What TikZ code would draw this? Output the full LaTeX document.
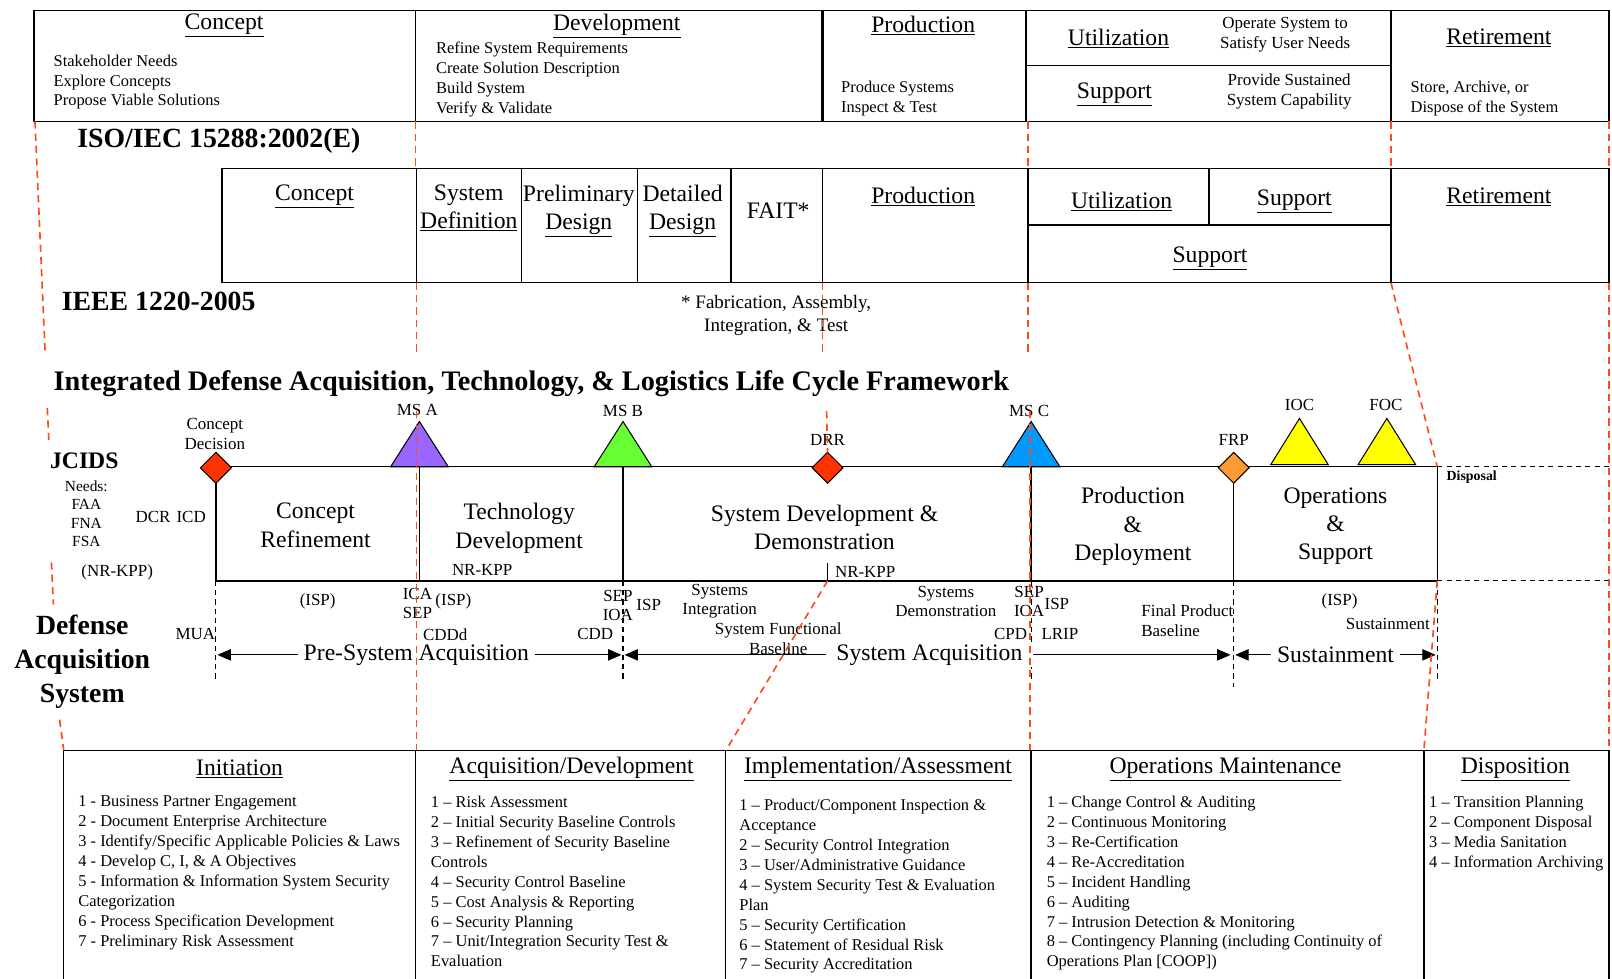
\documentclass[tikz,border=0pt]{standalone}
\usepackage{fontspec}
\setmainfont{Liberation Serif}
\usetikzlibrary{arrows.meta}
\definecolor{redl}{RGB}{255,75,25}
\definecolor{dred}{RGB}{255,51,0}
\definecolor{msa}{RGB}{153,102,255}
\definecolor{msb}{RGB}{102,255,51}
\definecolor{msc}{RGB}{0,153,255}
\definecolor{frp}{RGB}{255,153,51}
\definecolor{yel}{RGB}{255,255,0}
\newcommand{\fsz}[2]{\fontsize{#1}{#2}\selectfont}
\begin{document}
\begin{tikzpicture}[x=1pt,y=-1pt,
  tbl/.style={line width=1.3pt},
  ln/.style={line width=1pt},
  reddash/.style={draw=redl,line width=1.6pt,dash pattern=on 7pt off 5pt},
  bdash/.style={line width=1pt,dash pattern=on 5pt off 4pt},
  hd/.style={inner sep=0pt,font=\fsz{23}{27}},
  itl/.style={inner sep=0pt,font=\fsz{16}{19.4},align=left,anchor=north west},
  sm/.style={inner sep=0pt,font=\fsz{16.5}{19}},
  bandtxt/.style={inner sep=0pt,font=\fsz{23}{27.5},align=center},
  ttl/.style={inner sep=0pt,font=\bfseries\fsz{27}{33},anchor=west},
  arrtxt/.style={fill=white,inner xsep=6pt,inner ysep=2pt,font=\fsz{23}{26}},
  dbl/.style={line width=1pt,{Triangle[length=13pt,width=11pt]}-{Triangle[length=13pt,width=11pt]}},
  mst/.style={draw=black,line width=1pt},
]
\fill[white] (0,0) rectangle (1568,952);
\useasboundingbox (0,0) rectangle (1568,952);

% ---------------- Top table (ISO/IEC 15288) ----------------
\draw[tbl] (33,10) rectangle (1565,118);
\draw[tbl] (404,10) -- (404,118);
\draw[line width=2.4pt] (800,10) -- (800,118);
\draw[tbl] (998,10) -- (998,118);
\draw[tbl] (1353,10) -- (1353,118);
\draw[tbl] (998,64) -- (1353,64);

\node[hd] (iconcept) at (218,25) {\underline{Concept}};
\node[hd] (idev) at (600,25) {\underline{Development}};
\node[hd] (iprod) at (898,25) {\underline{Production}};
\node[hd] (iutil) at (1088,37) {\underline{Utilization}};
\node[hd] (isupp) at (1084,92) {\underline{Support}};
\node[hd] (iret) at (1458,37) {\underline{Retirement}};
\node[sm,align=center] (iutiltx) at (1250,34) {Operate System to\\Satisfy User Needs};
\node[sm,align=center] (isupptx) at (1254,89) {Provide Sustained\\System Capability};
\node[itl] (iconcepttx) at (52,53) {Stakeholder Needs\\Explore Concepts\\Propose Viable Solutions};
\node[itl] (idevtx) at (424,41) {Refine System Requirements\\Create Solution Description\\Build System\\Verify \& Validate};
\node[itl] (iprodtx) at (818,79) {Produce Systems\\Inspect \& Test};
\node[itl] (irettx) at (1372,79) {Store, Archive, or\\Dispose of the System};

\node[ttl] (iso) at (75,137) {ISO/IEC 15288:2002(E)};

% ---------------- Second table (IEEE 1220) ----------------
\draw[tbl] (216,164) rectangle (1565,275);
\foreach \xx in {405,507,620,711,800,1000,1353} \draw[tbl] (\xx,164) -- (\xx,275);
\draw[tbl] (1176,164) -- (1176,219);
\draw[tbl] (1000,219) -- (1353,219);

\node[hd] (econcept) at (306,191) {\underline{Concept}};
\node[hd,align=center,anchor=north] (esysdef) at (456,180) {System\\\underline{Definition}};
\node[hd,align=center,anchor=north] (eprelim) at (563,180) {Preliminary\\\underline{Design}};
\node[hd,align=center,anchor=north] (edetail) at (664,180) {Detailed\\\underline{Design}};
\node[hd] (efait) at (757,205) {FAIT*};
\node[hd] (eprod) at (898,191) {\underline{Production}};
\node[hd] (eutil) at (1091,196) {\underline{Utilization}};
\node[hd] (esupp1) at (1259,196) {\underline{Support}};
\node[hd] (esupp2) at (1177,251) {\underline{Support}};
\node[hd] (eret) at (1458,191) {\underline{Retirement}};

\node[ttl] (ieee) at (60,293) {IEEE 1220-2005};
\node[inner sep=0pt,font=\fsz{18.5}{22},align=center] (fait) at (755,307) {* Fabrication, Assembly,\\Integration, \& Test};

% ---------------- Framework ----------------
\node[inner sep=0pt,font=\bfseries\fsz{27.5}{30},anchor=west] (title) at (52,373) {Integrated Defense Acquisition, Technology, \& Logistics Life Cycle Framework};

% band
\draw[tbl] (210,454) -- (1398,454);
\draw[tbl] (210,565) -- (1398,565);
\draw[bdash] (1398,454) -- (1565,454);
\draw[bdash] (1398,565) -- (1565,565);
\foreach \xx in {210,408,606,1003,1200,1398} \draw[tbl] (\xx,454) -- (\xx,565);
\draw[ln] (805,548) -- (805,565);

% dashed verticals below band
\foreach \xx in {210,606,1003,1398} \draw[bdash] (\xx,565) -- (\xx,662);
\draw[bdash] (1200,565) -- (1200,668);

% arrows
\coordinate (a0) at (210,637);
\coordinate (a1) at (606,637);
\coordinate (a2) at (1200,637);
\coordinate (a3) at (1398,637);
\draw[dbl,shorten <=1.5pt,shorten >=1.5pt] (a0) -- (a1);
\draw[dbl,shorten <=1.5pt,shorten >=3pt] (a1) -- (a2);
\draw[dbl,shorten <=1.5pt,shorten >=1.5pt] (a2) -- (a3);
\node[arrtxt] (presys) at (405,637) {Pre-System Acquisition};
\node[arrtxt,inner xsep=10pt] (sysacq) at (904,637) {System Acquisition};
\node[arrtxt] (sustain) at (1299,637) {Sustainment};

% milestones
\draw[mst,fill=dred] (210,440) -- (225,455) -- (210,470) -- (195,455) -- cycle;
\draw[mst,fill=dred] (805,440) -- (820,455) -- (805,470) -- (790,455) -- cycle;
\draw[mst,fill=frp] (1200,440) -- (1215,455) -- (1200,470) -- (1185,455) -- cycle;
\draw[mst,fill=msa] (380,454) -- (408,410) -- (436,454) -- cycle;
\draw[mst,fill=msb] (578,454) -- (606,410) -- (634,454) -- cycle;
\draw[mst,fill=msc] (975,454) -- (1003,410) -- (1031,454) -- cycle;
\draw[mst,fill=yel] (1236,452) -- (1264,407) -- (1292,452) -- cycle;
\draw[mst,fill=yel] (1321,452) -- (1349,407) -- (1377,452) -- cycle;

\node[sm,align=center] (cd) at (209,422) {Concept\\Decision};
\node[sm] (msA) at (406,399) {MS A};
\node[sm] (msB) at (606,400) {MS B};
\node[sm] (drr) at (805,428) {DRR};
\node[sm] (msC) at (1001,400) {MS C};
\node[sm] (frpl) at (1200,428) {FRP};
\node[sm] (ioc) at (1264,394) {IOC};
\node[sm] (foc) at (1348,394) {FOC};

% band phase texts
\node[bandtxt] (cr) at (307,511) {Concept\\Refinement};
\node[bandtxt] (td) at (505,514) {Technology\\Development};
\node[bandtxt] (sdd) at (802,513) {System Development \&\\Demonstration};
\node[bandtxt] (pd) at (1102,512) {Production\\\&\\Deployment};
\node[bandtxt] (os) at (1299,512) {Operations\\\&\\Support};
\node[sm] (nrk1) at (469,554) {NR-KPP};
\node[sm,anchor=west] (nrk2) at (812,556) {NR-KPP};
\node[inner sep=0pt,font=\bfseries\fsz{13.5}{16},anchor=west] (disp) at (1407,464) {Disposal};

% left column
\node[inner sep=0pt,font=\bfseries\fsz{23}{24}] (jcids) at (82,448) {JCIDS};
\node[inner sep=0pt,font=\fsz{15}{18},align=center,anchor=north] (needs) at (84,467) {Needs:\\FAA\\FNA\\FSA};
\node[sm] (nrkpp) at (114,557) {(NR-KPP)};
\node[sm] (dcr) at (166,503) {DCR\hspace{6pt}ICD};
\node[inner sep=0pt,font=\bfseries\fsz{27}{33},align=center] (das) at (80,644) {Defense\\Acquisition\\System};

% below-band labels
\node[sm] (isp1) at (309,585) {(ISP)};
\node[sm,align=center] (icasep) at (406,587) {ICA\\SEP};
\node[sm] (isp2) at (441,585) {(ISP)};
\node[sm] (mua) at (190,617) {MUA};
\node[sm] (cddd) at (433,617) {CDDd};
\node[sm] (cdd) at (579,617) {CDD};
\node[sm,align=center] (sepioa1) at (601,589) {SEP\\IOA};
\node[sm] (isp3) at (631,588) {ISP};
\node[sm,align=center] (sysint) at (700,585) {Systems\\Integration};
\node[sm,align=center] (sfb) at (757,621) {System Functional\\Baseline};
\node[sm,align=center] (sysdem) at (920,585) {Systems\\Demonstration};
\node[sm,align=center] (sepioa2) at (1001,585) {SEP\\IOA};
\node[sm] (isp4) at (1028,587) {ISP};
\node[sm] (cpd) at (983,617) {CPD};
\node[sm] (lrip) at (1031,617) {LRIP};
\node[sm,align=left,anchor=west] (fpb) at (1110,604) {Final Product\\Baseline};
\node[sm] (isp5) at (1303,585) {(ISP)};
\node[sm] (sust2) at (1350,607) {Sustainment};

% ---------------- Bottom table (NIST) ----------------
\draw[tbl] (62,960) -- (62,730) -- (1565,730) -- (1565,960);
\foreach \xx in {404,706,1003,1385} \draw[tbl] (\xx,730) -- (\xx,960);

\node[hd] (ninit) at (233,748) {\underline{Initiation}};
\node[hd] (nacq) at (556,748) {\underline{Acquisition/Development}};
\node[hd] (nimp) at (854,748) {\underline{Implementation/Assessment}};
\node[hd] (nops) at (1192,748) {\underline{Operations Maintenance}};
\node[hd] (ndisp) at (1474,748) {\underline{Disposition}};

\node[itl] (ninittx) at (76,774) {1 - Business Partner Engagement\\2 - Document Enterprise Architecture\\3 - Identify/Specific Applicable Policies \& Laws\\4 - Develop C, I, \& A Objectives\\5 - Information \& Information System Security\\Categorization\\6 - Process Specification Development\\7 - Preliminary Risk Assessment};
\node[itl] (nacqtx) at (419,774) {1 – Risk Assessment\\2 – Initial Security Baseline Controls\\3 – Refinement of Security Baseline\\Controls\\4 – Security Control Baseline\\5 – Cost Analysis \& Reporting\\6 – Security Planning\\7 – Unit/Integration Security Test \&\\Evaluation};
\node[itl] (nimptx) at (719,777) {1 – Product/Component Inspection \&\\Acceptance\\2 – Security Control Integration\\3 – User/Administrative Guidance\\4 – System Security Test \& Evaluation\\Plan\\5 – Security Certification\\6 – Statement of Residual Risk\\7 – Security Accreditation};
\node[itl] (nopstx) at (1018,774) {1 – Change Control \& Auditing\\2 – Continuous Monitoring\\3 – Re-Certification\\4 – Re-Accreditation\\5 – Incident Handling\\6 – Auditing\\7 – Intrusion Detection \& Monitoring\\8 – Contingency Planning (including Continuity of\\Operations Plan [COOP])};
\node[itl] (ndisptx) at (1390,774) {1 – Transition Planning\\2 – Component Disposal\\3 – Media Sanitation\\4 – Information Archiving};

% ---------------- Red dashed correspondence lines ----------------
\draw[reddash] (34,118) -- (44,345);
\draw[reddash] (46,397) -- (47.5,428);
\draw[reddash] (50,547) -- (52,588);
\draw[reddash] (58,700) -- (62,730);
\draw[reddash] (404,118) -- (404,164);
\draw[reddash] (405,275) -- (405,345);
\draw[reddash] (405,400) -- (405,730);
\draw[reddash] (800,275) -- (800,345);
\draw[reddash] (804,400) -- (805,440);
\draw[reddash] (805,565) -- (706,730);
\draw[reddash] (1000,118) -- (1000,164);
\draw[reddash] (1000,275) -- (1000,345);
\draw[reddash] (1002,400) -- (1002,730);
\draw[reddash] (1353,118) -- (1353,164);
\draw[reddash] (1353,275) -- (1398,454);
\draw[reddash] (1398,565) -- (1385,730);
\draw[reddash] (1565,118) -- (1565,164);
\draw[reddash] (1565,275) -- (1565,730);
\end{tikzpicture}
\end{document}
